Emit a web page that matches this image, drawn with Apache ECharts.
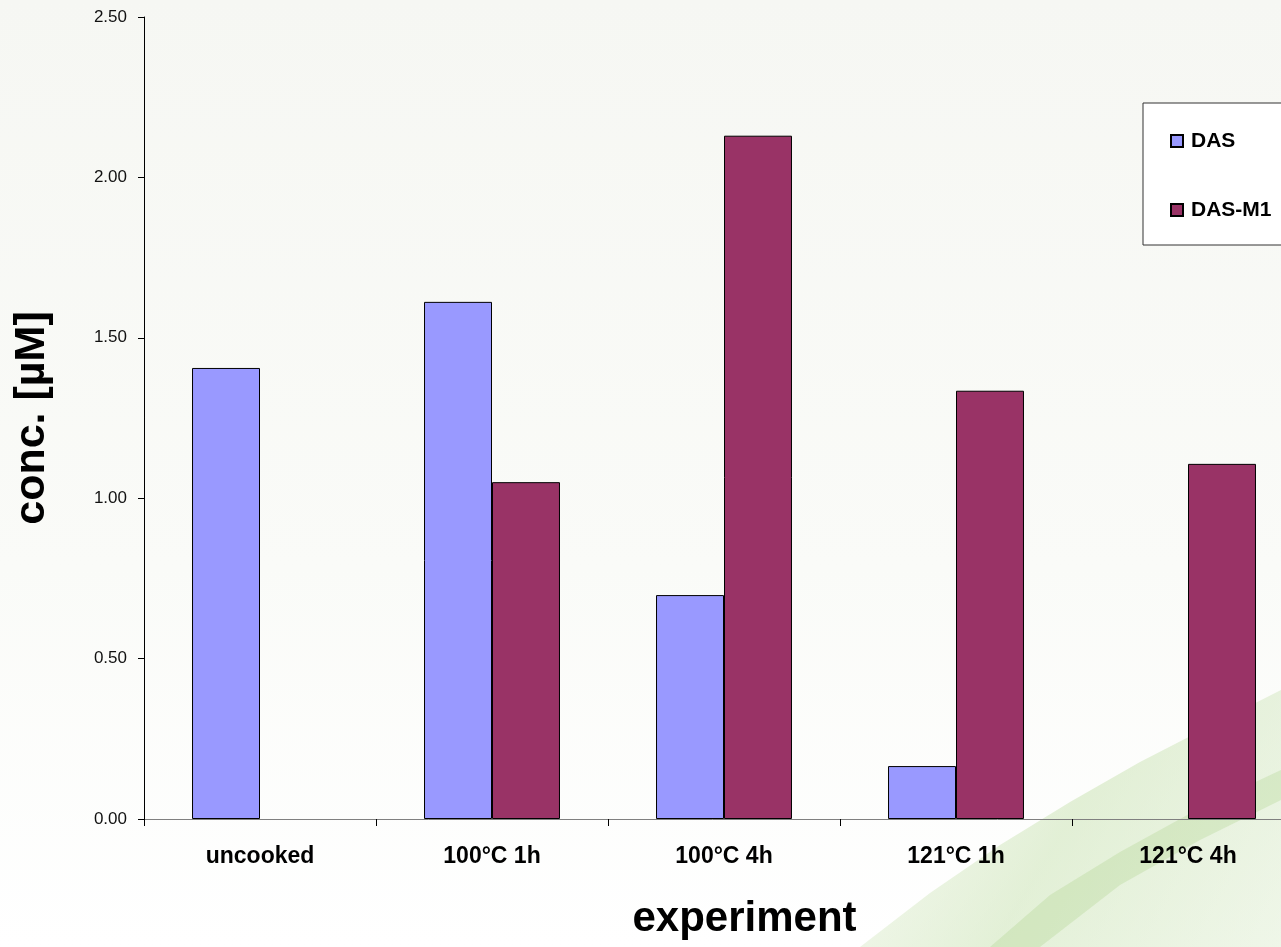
<!DOCTYPE html>
<html>
<head>
<meta charset="utf-8">
<style>
  html, body { margin: 0; padding: 0; }
  #chart { width: 1281px; height: 947px; }
</style>
<script src="https://cdn.jsdelivr.net/npm/echarts@6/dist/echarts.min.js"></script>
</head>
<body>
<div id="chart"></div>
<script>
const categories = ['uncooked', '100°C 1h', '100°C 4h', '121°C 1h', '121°C 4h'];
const dasValues = [1.406, 1.612, 0.698, 0.165, null];
const dasM1Values = [null, 1.050, 2.130, 1.335, 1.107];
const seriesNames = ['DAS', 'DAS-M1'];
const yTicks = { min: 0, max: 2.5, interval: 0.5 };
const xTitle = 'experiment';
const yTitle = 'conc. [µM]';

const FONT = '"Liberation Sans", Arial, sans-serif';
const chart = echarts.init(document.getElementById('chart'), null, { renderer: 'canvas' });

chart.setOption({
  backgroundColor: new echarts.graphic.LinearGradient(0, 0, 0, 1, [
    { offset: 0, color: '#f6f7f3' },
    { offset: 0.6, color: '#fafbf8' },
    { offset: 1, color: '#ffffff' }
  ]),
  animation: false,
  graphic: [
    {
      type: 'polygon',
      z: -10,
      silent: true,
      shape: { points: [[860, 947], [930, 893], [1000, 845], [1070, 802], [1140, 762], [1210, 726], [1281, 690], [1281, 947]] },
      style: {
        fill: new echarts.graphic.LinearGradient(0, 0, 1, 1, [
          { offset: 0, color: 'rgba(215,232,195,0.22)' },
          { offset: 0.5, color: 'rgba(185,218,155,0.40)' },
          { offset: 1, color: 'rgba(205,228,185,0.32)' }
        ])
      }
    },
    {
      type: 'polygon',
      z: -9,
      silent: true,
      shape: { points: [[990, 947], [1050, 895], [1120, 852], [1200, 808], [1281, 770], [1281, 800], [1200, 840], [1120, 885], [1040, 947]] },
      style: { fill: 'rgba(160,205,120,0.25)' }
    }
  ],
  grid: { left: 144, top: 17, width: 1160, bottom: 128, containLabel: false, outerBoundsMode: 'none' },
  legend: {
    orient: 'vertical',
    left: 1143,
    top: 103,
    data: seriesNames,
    itemWidth: 12,
    itemHeight: 12,
    itemGap: 47,
    icon: 'rect',
    padding: [27, 40, 24, 27],
    backgroundColor: '#ffffff',
    borderColor: '#333333',
    borderWidth: 1,
    textStyle: { fontFamily: FONT, fontSize: 21, fontWeight: 'bold', color: '#000', lineHeight: 22, padding: [0, 0, 0, 3] }
  },
  xAxis: {
    type: 'category',
    data: categories,
    name: xTitle,
    nameLocation: 'middle',
    nameGap: 79,
    nameTextStyle: { fontFamily: FONT, fontSize: 42, fontWeight: 'bold', color: '#000', lineHeight: 42, padding: [0, 0, 0, 41] },
    axisLine: { lineStyle: { color: '#808080', width: 1 } },
    axisTick: { show: true, length: 7, lineStyle: { color: '#000' } },
    axisLabel: { fontFamily: FONT, fontSize: 23, fontWeight: 'bold', color: '#000', margin: 26, lineHeight: 23, interval: 0 },
    splitLine: { show: false }
  },
  yAxis: {
    type: 'value',
    min: yTicks.min,
    max: yTicks.max,
    interval: yTicks.interval,
    name: yTitle,
    nameLocation: 'middle',
    nameGap: 90,
    nameRotate: 90,
    nameTextStyle: { fontFamily: FONT, fontSize: 43, fontWeight: 'bold', color: '#000', lineHeight: 43 },
    axisLine: { show: true, lineStyle: { color: '#000', width: 1 } },
    axisTick: { show: true, length: 6, lineStyle: { color: '#000' } },
    axisLabel: {
      fontFamily: FONT, fontSize: 17, color: '#111', margin: 17,
      formatter: v => v.toFixed(2)
    },
    splitLine: { show: false }
  },
  series: [
    {
      name: seriesNames[0],
      type: 'bar',
      data: dasValues,
      barGap: '0%',
      barCategoryGap: '41.4%',
      itemStyle: { color: '#9999ff', borderColor: '#000', borderWidth: 1 }
    },
    {
      name: seriesNames[1],
      type: 'bar',
      data: dasM1Values,
      barGap: '0%',
      barCategoryGap: '41.4%',
      itemStyle: { color: '#993366', borderColor: '#000', borderWidth: 1 }
    }
  ]
});
</script>
</body>
</html>
